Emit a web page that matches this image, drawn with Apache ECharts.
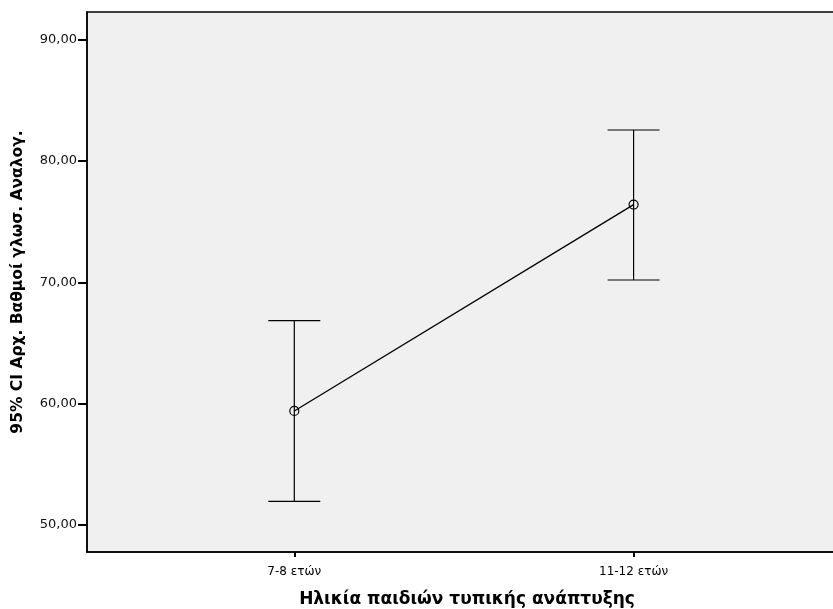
<!DOCTYPE html>
<html>
<head>
<meta charset="utf-8">
<script src="https://cdn.jsdelivr.net/npm/echarts@6/dist/echarts.min.js"></script>
<style>
  html, body { margin: 0; padding: 0; background: #ffffff; }
  #chart { width: 833px; height: 609px; }
</style>
</head>
<body>
<div id="chart"></div>
<script>
// Age groups and 95% confidence intervals of the score
const categories = ['7-8 ετών', '11-12 ετών'];
const means = [59.40, 76.40];
const lowerCI = [51.95, 70.19];
const upperCI = [66.84, 82.55];
const yTicks = [50, 60, 70, 80, 90];

const xTitle = 'Ηλικία παιδιών τυπικής ανάπτυξης';
const yTitle = '95% CI Αρχ. Βαθμοί γλωσ. Αναλογ.';

const positions = categories.map((_, i) => i);
const lineData = positions.map((p, i) => [p, means[i]]);
const barData = positions.map((p, i) => [p, lowerCI[i], upperCI[i]]);

const chart = echarts.init(document.getElementById('chart'));

chart.setOption({
  animation: false,
  grid: {
    left: 87, top: 12, width: 760, height: 540,
    outerBoundsMode: 'none',
    containLabel: false,
    show: true,
    backgroundColor: '#f0f0f0',
    borderColor: '#000',
    borderWidth: 1.5
  },
  xAxis: {
    type: 'value',
    min: -0.611,
    max: 1.629,
    name: xTitle,
    nameLocation: 'middle',
    nameGap: 39,
    nameTextStyle: { fontFamily: 'DejaVu Sans', fontWeight: 'bold', fontSize: 17, color: '#000' },
    splitLine: { show: false },
    axisLine: { show: true, onZero: false, lineStyle: { color: '#000', width: 1.5 } },
    axisTick: { show: true, length: 5, customValues: positions, lineStyle: { color: '#000', width: 2 } },
    axisLabel: {
      customValues: positions,
      formatter: v => categories[Math.round(v)],
      fontFamily: 'DejaVu Sans',
      fontSize: 12,
      color: '#000',
      margin: 14
    }
  },
  yAxis: {
    type: 'value',
    min: 47.78,
    max: 92.27,
    name: yTitle,
    nameLocation: 'middle',
    nameGap: 61,
    nameRotate: 90,
    nameTextStyle: { fontFamily: 'DejaVu Sans', fontWeight: 'bold', fontSize: 15.5, color: '#000' },
    splitLine: { show: false },
    axisLine: { show: true, onZero: false, lineStyle: { color: '#000', width: 1.5 } },
    axisTick: { show: true, length: 9, customValues: yTicks, lineStyle: { color: '#000', width: 2 } },
    axisLabel: {
      customValues: yTicks,
      formatter: v => v.toFixed(2).replace('.', ','),
      fontFamily: 'DejaVu Sans',
      fontSize: 13,
      color: '#111',
      margin: 10
    }
  },
  series: [
    {
      type: 'custom',
      data: barData,
      renderItem: function (params, api) {
        const x = api.value(0);
        const lo = api.coord([x, api.value(1)]);
        const hi = api.coord([x, api.value(2)]);
        const cap = 26;
        const style = { stroke: '#000', lineWidth: 1.2 };
        return {
          type: 'group',
          children: [
            { type: 'line', shape: { x1: lo[0], y1: lo[1], x2: hi[0], y2: hi[1] }, style },
            { type: 'line', shape: { x1: hi[0] - cap, y1: hi[1], x2: hi[0] + cap, y2: hi[1] }, style },
            { type: 'line', shape: { x1: lo[0] - cap, y1: lo[1], x2: lo[0] + cap, y2: lo[1] }, style }
          ]
        };
      },
      z: 2
    },
    {
      type: 'line',
      data: lineData,
      symbol: 'circle',
      symbolSize: 9,
      showAllSymbol: true,
      lineStyle: { color: '#000', width: 1.3 },
      itemStyle: { color: 'rgba(0,0,0,0)', borderColor: '#000', borderWidth: 1.2 },
      z: 3
    }
  ]
});
</script>
</body>
</html>
